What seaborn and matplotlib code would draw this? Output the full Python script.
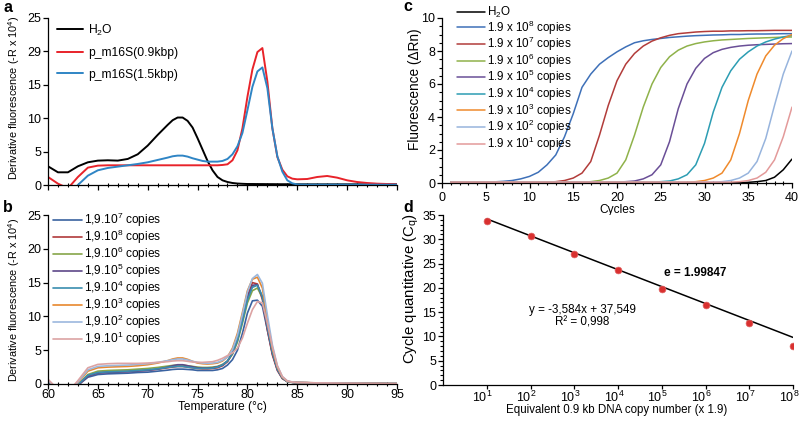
import pandas as pd
import seaborn as sns
import matplotlib.pyplot as plt
import matplotlib.transforms as mtransforms
from matplotlib.ticker import MultipleLocator, FixedLocator, NullLocator, FixedFormatter

# ---- panel a / b : melt curves ----
temp = [60, 61, 62, 63, 64, 65, 66, 67, 68, 69, 70, 71, 72, 72.5, 73, 73.5, 74, 74.5, 75, 75.5,
        76, 76.5, 77, 77.5, 78, 78.5, 79, 79.5, 80, 80.5, 81, 81.5, 82, 82.5, 83, 83.5, 84, 84.5,
        85, 86, 87, 88, 89, 90, 91, 92, 93, 94, 95]

melt_h2o = [2.8, 1.9, 1.9, 2.8, 3.4, 3.65, 3.7, 3.65, 3.9, 4.6, 5.9, 7.5, 9.0, 9.7, 10.1, 10.1, 9.6, 8.6, 7.0, 5.3,
            3.6, 2.2, 1.2, 0.7, 0.45, 0.3, 0.22, 0.18, 0.15, 0.15, 0.14, 0.14, 0.13, 0.13, 0.12, 0.12, 0.12, 0.11,
            0.11, 0.1, 0.1, 0.1, 0.1, 0.1, 0.1, 0.1, 0.1, 0.1, 0.1]
melt_09kbp = [1.2, 0.2, -0.5, 1.2, 2.6, 2.9, 2.95, 2.95, 2.95, 2.95, 2.95, 2.95, 2.95, 2.95, 2.95, 2.95, 2.95, 2.95, 2.95, 2.95,
              2.95, 2.95, 2.95, 3.0, 3.1, 3.7, 5.2, 8.5, 13.2, 17.3, 19.9, 20.5, 15.5, 8.5, 4.2, 2.3, 1.3, 0.95,
              0.85, 0.9, 1.2, 1.35, 1.1, 0.7, 0.45, 0.3, 0.2, 0.15, 0.1]
melt_15kbp = [-3.0, -3.0, -2.0, 0.0, 1.4, 2.2, 2.55, 2.75, 2.95, 3.15, 3.4, 3.75, 4.1, 4.3, 4.4, 4.4, 4.25, 4.0, 3.8, 3.6,
              3.5, 3.5, 3.5, 3.6, 3.9, 4.6, 5.8, 7.8, 11.2, 14.7, 17.0, 17.6, 14.5, 8.5, 4.3, 2.0, 0.7, 0.25,
              0.08, 0.05, 0.05, 0.05, 0.05, 0.05, 0.05, 0.05, 0.05, 0.05, 0.05]

melt_1e7 = [0.5, -1.2, -1.5, -0.2, 1.0, 1.4, 1.5, 1.55, 1.6, 1.7, 1.75, 1.9, 2.05, 2.15, 2.2, 2.2, 2.15, 2.1, 2.0, 2.0,
            2.0, 2.0, 2.1, 2.3, 2.8, 3.6, 5.0, 7.5, 10.5, 12.3, 12.4, 11.5, 8.0, 4.5, 2.2, 0.9, 0.4, 0.25,
            0.2, 0.18, 0.15, 0.15, 0.12, 0.1, 0.1, 0.08, 0.08, 0.05, 0.05]
melt_1e8 = [0.5, -1.2, -1.5, -0.2, 1.2, 1.7, 1.8, 1.85, 1.9, 2.0, 2.05, 2.2, 2.4, 2.5, 2.6, 2.6, 2.5, 2.4, 2.3, 2.25,
            2.25, 2.3, 2.4, 2.7, 3.3, 4.5, 6.5, 9.5, 13.0, 15.0, 14.8, 12.5, 8.0, 4.3, 2.0, 0.8, 0.35, 0.25,
            0.2, 0.18, 0.15, 0.15, 0.12, 0.1, 0.1, 0.08, 0.08, 0.05, 0.05]
melt_1e6 = [0.5, -1.2, -1.5, -0.1, 1.4, 1.9, 2.0, 2.05, 2.1, 2.2, 2.3, 2.45, 2.65, 2.75, 2.8, 2.8, 2.7, 2.6, 2.5, 2.45,
            2.45, 2.5, 2.6, 2.9, 3.4, 4.4, 6.2, 9.0, 12.0, 13.8, 14.2, 12.8, 8.6, 4.8, 2.3, 0.9, 0.35, 0.25,
            0.2, 0.18, 0.15, 0.15, 0.12, 0.1, 0.1, 0.08, 0.08, 0.05, 0.05]
melt_1e5 = [0.5, -1.2, -1.5, -0.2, 1.2, 1.6, 1.7, 1.75, 1.8, 1.9, 2.0, 2.2, 2.5, 2.7, 2.85, 2.85, 2.7, 2.55, 2.4, 2.35,
            2.35, 2.4, 2.55, 2.8, 3.4, 4.6, 6.6, 9.6, 12.8, 14.6, 14.7, 12.8, 8.3, 4.6, 2.1, 0.85, 0.35, 0.25,
            0.2, 0.18, 0.15, 0.15, 0.12, 0.1, 0.1, 0.08, 0.08, 0.05, 0.05]
melt_1e4 = [0.5, -1.2, -1.5, -0.1, 1.3, 1.7, 1.8, 1.85, 1.9, 2.0, 2.1, 2.25, 2.45, 2.55, 2.6, 2.6, 2.5, 2.4, 2.3, 2.3,
            2.3, 2.35, 2.5, 2.8, 3.4, 4.6, 6.5, 9.3, 12.4, 14.3, 14.6, 13.0, 8.5, 4.7, 2.2, 0.9, 0.35, 0.25,
            0.2, 0.18, 0.15, 0.15, 0.12, 0.1, 0.1, 0.08, 0.08, 0.05, 0.05]
melt_1e3 = [0.6, -1.0, -1.3, 0.2, 1.9, 2.4, 2.5, 2.55, 2.6, 2.7, 2.85, 3.1, 3.45, 3.7, 3.85, 3.85, 3.65, 3.35, 3.1, 3.0,
            2.95, 3.0, 3.1, 3.4, 4.0, 5.3, 7.5, 10.6, 13.8, 15.5, 15.8, 14.2, 9.5, 5.3, 2.5, 1.0, 0.4, 0.28,
            0.22, 0.2, 0.16, 0.15, 0.12, 0.1, 0.1, 0.08, 0.08, 0.05, 0.05]
melt_1e2 = [0.6, -1.0, -1.3, 0.3, 2.1, 2.6, 2.7, 2.75, 2.8, 2.9, 3.0, 3.2, 3.45, 3.6, 3.7, 3.7, 3.55, 3.35, 3.2, 3.1,
            3.05, 3.1, 3.2, 3.5, 4.0, 5.1, 7.2, 10.3, 13.6, 15.6, 16.2, 14.9, 10.2, 5.8, 2.7, 1.1, 0.45, 0.3,
            0.22, 0.2, 0.16, 0.15, 0.12, 0.1, 0.1, 0.08, 0.08, 0.05, 0.05]
melt_1e1 = [0.7, -0.8, -1.2, 0.5, 2.4, 2.9, 3.0, 3.05, 3.05, 3.05, 3.1, 3.2, 3.3, 3.4, 3.45, 3.45, 3.35, 3.25, 3.2, 3.2,
            3.25, 3.3, 3.5, 3.8, 4.2, 4.6, 5.3, 6.8, 9.0, 11.0, 12.2, 12.0, 9.0, 5.5, 2.7, 1.1, 0.45, 0.3,
            0.22, 0.2, 0.16, 0.15, 0.12, 0.1, 0.1, 0.08, 0.08, 0.05, 0.05]

# ---- panel c : amplification curves ----
cycles = list(range(1, 41))
amp_h2o = [0.02, 0.02, 0.02, 0.02, 0.02, 0.02, 0.02, 0.02, 0.02, 0.02, 0.02, 0.02, 0.02, 0.02, 0.02, 0.02, 0.02, 0.02, 0.02, 0.02,
           0.02, 0.02, 0.02, 0.02, 0.02, 0.02, 0.02, 0.02, 0.02, 0.02, 0.02, 0.02, 0.02, 0.02, 0.04, 0.08, 0.15, 0.35, 0.8, 1.45]
amp_1e8 = [0.05, 0.05, 0.05, 0.05, 0.06, 0.07, 0.1, 0.15, 0.25, 0.4, 0.65, 1.1, 1.7, 2.8, 4.2, 5.8, 6.6, 7.2, 7.6, 7.95,
           8.25, 8.5, 8.62, 8.7, 8.76, 8.82, 8.86, 8.9, 8.93, 8.95, 8.97, 8.98, 9.0, 9.0, 9.02, 9.03, 9.03, 9.04, 9.05, 9.05]
amp_1e7 = [0.05, 0.05, 0.05, 0.05, 0.05, 0.05, 0.05, 0.05, 0.05, 0.05, 0.05, 0.05, 0.08, 0.15, 0.3, 0.6, 1.3, 2.9, 4.7, 6.2,
           7.2, 7.85, 8.3, 8.6, 8.8, 8.95, 9.05, 9.1, 9.15, 9.18, 9.2, 9.2, 9.22, 9.22, 9.23, 9.23, 9.24, 9.25, 9.25, 9.25]
amp_1e6 = [0.05, 0.05, 0.05, 0.05, 0.05, 0.05, 0.05, 0.05, 0.05, 0.05, 0.05, 0.05, 0.05, 0.05, 0.05, 0.05, 0.08, 0.15, 0.3, 0.6,
           1.4, 2.9, 4.6, 6.0, 7.0, 7.65, 8.05, 8.3, 8.45, 8.55, 8.62, 8.67, 8.7, 8.73, 8.76, 8.78, 8.8, 8.82, 8.84, 8.85]
amp_1e5 = [0.05, 0.05, 0.05, 0.05, 0.05, 0.05, 0.05, 0.05, 0.05, 0.05, 0.05, 0.05, 0.05, 0.05, 0.05, 0.05, 0.05, 0.05, 0.05, 0.05,
           0.08, 0.12, 0.25, 0.5, 1.1, 2.5, 4.5, 6.0, 6.95, 7.55, 7.9, 8.1, 8.22, 8.3, 8.35, 8.38, 8.4, 8.42, 8.44, 8.45]
amp_1e4 = [0.05, 0.05, 0.05, 0.05, 0.05, 0.05, 0.05, 0.05, 0.05, 0.05, 0.05, 0.05, 0.05, 0.05, 0.05, 0.05, 0.05, 0.05, 0.05, 0.05,
           0.05, 0.05, 0.05, 0.05, 0.08, 0.12, 0.25, 0.5, 1.1, 2.4, 4.3, 5.8, 6.8, 7.5, 7.95, 8.3, 8.55, 8.72, 8.85, 8.95]
amp_1e3 = [0.05, 0.05, 0.05, 0.05, 0.05, 0.05, 0.05, 0.05, 0.05, 0.05, 0.05, 0.05, 0.05, 0.05, 0.05, 0.05, 0.05, 0.05, 0.05, 0.05,
           0.05, 0.05, 0.05, 0.05, 0.05, 0.05, 0.05, 0.05, 0.08, 0.15, 0.3, 0.6, 1.4, 3.0, 5.0, 6.6, 7.7, 8.35, 8.75, 9.0]
amp_1e2 = [0.05, 0.05, 0.05, 0.05, 0.05, 0.05, 0.05, 0.05, 0.05, 0.05, 0.05, 0.05, 0.05, 0.05, 0.05, 0.05, 0.05, 0.05, 0.05, 0.05,
           0.05, 0.05, 0.05, 0.05, 0.05, 0.05, 0.05, 0.05, 0.05, 0.05, 0.05, 0.08, 0.15, 0.3, 0.6, 1.3, 2.7, 4.7, 6.6, 8.0]
amp_1e1 = [0.05, 0.05, 0.05, 0.05, 0.05, 0.05, 0.05, 0.05, 0.05, 0.05, 0.05, 0.05, 0.05, 0.05, 0.05, 0.05, 0.05, 0.05, 0.05, 0.05,
           0.05, 0.05, 0.05, 0.05, 0.05, 0.05, 0.05, 0.05, 0.05, 0.05, 0.05, 0.05, 0.05, 0.08, 0.15, 0.3, 0.65, 1.4, 2.8, 4.6]

# ---- panel d : standard curve ----
copies = [1e1, 1e2, 1e3, 1e4, 1e5, 1e6, 1e7, 1e8]
cq = [33.8, 30.7, 26.9, 23.6, 19.8, 16.5, 12.8, 8.1]
trend_x = [1e1, 1e8]
trend_y = [34.2, 9.8]

labels_a = ["H$_2$O", "p_m16S(0.9kbp)", "p_m16S(1.5kbp)"]
colors_a = ["black", "#e8232a", "#2f85c5"]
labels_b = ["1,9.10$^7$ copies", "1,9.10$^8$ copies", "1,9.10$^6$ copies", "1,9.10$^5$ copies",
            "1,9.10$^4$ copies", "1,9.10$^3$ copies", "1,9.10$^2$ copies", "1,9.10$^1$ copies"]
colors_b = ["#3a62a0", "#b0393b", "#86a649", "#5e4889", "#3a8daf", "#e8882e", "#9cb8de", "#dca3a3"]
labels_c = ["H$_2$O", "1.9 x 10$^8$ copies", "1.9 x 10$^7$ copies", "1.9 x 10$^6$ copies", "1.9 x 10$^5$ copies",
            "1.9 x 10$^4$ copies", "1.9 x 10$^3$ copies", "1.9 x 10$^2$ copies", "1.9 x 10$^1$ copies"]
colors_c = ["black", "#3e70b8", "#b23c3a", "#8fb24a", "#6a4f97", "#2c9db3", "#ef8a2c", "#97b4dd", "#e39a9a"]

sns.set_theme(style="ticks")
plt.rcParams["font.family"] = ["Liberation Sans", "DejaVu Sans"]
plt.rcParams["mathtext.fontset"] = "custom"
plt.rcParams["mathtext.rm"] = "Liberation Sans"
plt.rcParams["mathtext.it"] = "Liberation Sans:italic"
plt.rcParams["mathtext.bf"] = "Liberation Sans:bold"
plt.rcParams["mathtext.default"] = "regular"
plt.rcParams["axes.linewidth"] = 0.9
plt.rcParams["axes.edgecolor"] = "black"
plt.rcParams["text.color"] = "black"
plt.rcParams["axes.labelcolor"] = "black"
plt.rcParams["xtick.color"] = "black"
plt.rcParams["ytick.color"] = "black"

W, H = 800, 424
TICK_FS = 9


def px_rect(left, top, right, bottom):
    return [left / W, 1 - bottom / H, (right - left) / W, (bottom - top) / H]


def long_df(xname, xs, series, labels):
    parts = [pd.DataFrame({xname: xs, "value": ys, "sample": lab}) for ys, lab in zip(series, labels)]
    return pd.concat(parts, ignore_index=True)


def style_axes(ax):
    sns.despine(ax=ax)
    ax.tick_params(axis="both", which="major", labelsize=TICK_FS, width=0.9, length=3.5, pad=1.5)
    ax.tick_params(axis="x", which="minor", direction="inout", length=3, width=0.8)
    ax.tick_params(axis="y", which="minor", direction="out", length=2, width=0.8)


fig = plt.figure(figsize=(W / 100, H / 100), dpi=100)

# ---------------- a ----------------
ax_a = fig.add_axes(px_rect(48, 18, 397, 185))
df_a = long_df("temp", temp, [melt_h2o, melt_09kbp, melt_15kbp], labels_a)
sns.lineplot(data=df_a, x="temp", y="value", hue="sample", hue_order=labels_a,
             palette=dict(zip(labels_a, colors_a)), linewidth=1.4, ax=ax_a)
ax_a.set_xlim(60, 95)
ax_a.set_ylim(0, 25)
ax_a.yaxis.set_major_locator(FixedLocator([0, 5, 10, 15, 20, 25]))
ax_a.yaxis.set_major_formatter(FixedFormatter(["0", "5", "10", "15", "29", "25"]))
ax_a.xaxis.set_major_locator(MultipleLocator(5))
ax_a.xaxis.set_minor_locator(MultipleLocator(1))
ax_a.set_xlabel("")
style_axes(ax_a)
ax_a.set_xticklabels([])
ax_a.set_ylabel("Derivative fluorescence (-R x 10$^4$)", fontsize=7.8)
ax_a.yaxis.set_label_coords(-0.074, 0.525)
h, l = ax_a.get_legend_handles_labels()
ax_a.legend(h, l, loc="upper left", bbox_to_anchor=(0.026, 0.972), frameon=False, fontsize=8.7,
            handlelength=2.15, handletextpad=0.4, labelspacing=0.78, borderpad=0, borderaxespad=0)

# ---------------- b ----------------
ax_b = fig.add_axes(px_rect(48, 215, 397, 384))
df_b = long_df("temp", temp, [melt_1e7, melt_1e8, melt_1e6, melt_1e5, melt_1e4, melt_1e3, melt_1e2, melt_1e1], labels_b)
sns.lineplot(data=df_b, x="temp", y="value", hue="sample", hue_order=labels_b,
             palette=dict(zip(labels_b, colors_b)), linewidth=1.2, ax=ax_b)
ax_b.set_xlim(60, 95)
ax_b.set_ylim(0, 25)
ax_b.yaxis.set_major_locator(MultipleLocator(5))
ax_b.xaxis.set_major_locator(MultipleLocator(5))
ax_b.xaxis.set_minor_locator(MultipleLocator(1))
style_axes(ax_b)
ax_b.tick_params(axis="x", which="major", pad=0)
ax_b.set_xlabel("Temperature (°c)", fontsize=8.6)
ax_b.xaxis.set_label_coords(0.4986, -0.1)
ax_b.set_ylabel("Derivative fluorescence (-R x 10$^4$)", fontsize=7.8)
ax_b.yaxis.set_label_coords(-0.074, 0.5)
h, l = ax_b.get_legend_handles_labels()
ax_b.legend(h, l, loc="upper left", bbox_to_anchor=(0.014, 1.025), frameon=False, fontsize=8.6,
            handlelength=2.45, handletextpad=0.15, labelspacing=-0.1, borderpad=0, borderaxespad=0)

# ---------------- c ----------------
ax_c = fig.add_axes(px_rect(442, 18, 792, 183))
df_c = long_df("cycle", cycles, [amp_h2o, amp_1e8, amp_1e7, amp_1e6, amp_1e5, amp_1e4, amp_1e3, amp_1e2, amp_1e1], labels_c)
sns.lineplot(data=df_c, x="cycle", y="value", hue="sample", hue_order=labels_c,
             palette=dict(zip(labels_c, colors_c)), linewidth=1.1, ax=ax_c)
ax_c.set_xlim(0, 40)
ax_c.set_ylim(0, 10)
ax_c.xaxis.set_major_locator(MultipleLocator(5))
ax_c.xaxis.set_minor_locator(MultipleLocator(1))
ax_c.yaxis.set_major_locator(MultipleLocator(2))
ax_c.yaxis.set_minor_locator(MultipleLocator(0.5))
style_axes(ax_c)
ax_c.tick_params(axis="x", which="major", pad=3)
ax_c.set_xlabel("Cycles", fontsize=8.6)
ax_c.xaxis.set_label_coords(0.5, -0.127)
ax_c.set_ylabel("Fluorescence (ΔRn)", fontsize=9.8)
ax_c.yaxis.set_label_coords(-0.057, 0.567)
h, l = ax_c.get_legend_handles_labels()
ax_c.legend(h, l, loc="upper left", bbox_to_anchor=(0.043, 1.08), frameon=False, fontsize=8.4,
            handlelength=2.4, handletextpad=0.15, labelspacing=-0.137, borderpad=0, borderaxespad=0)

# ---------------- d ----------------
ax_d = fig.add_axes(px_rect(443, 215, 793, 385))
sns.lineplot(x=trend_x, y=trend_y, color="black", linewidth=1.1, ax=ax_d)
sns.scatterplot(x=copies, y=cq, color="#d9302f", s=24, edgecolor="#e06060", linewidth=0.5, zorder=3, ax=ax_d)
ax_d.set_xscale("log")
ax_d.set_xlim(1, 1e8)
ax_d.set_ylim(0, 35)
ax_d.xaxis.set_major_locator(FixedLocator(copies))
ax_d.xaxis.set_minor_locator(NullLocator())
ax_d.yaxis.set_major_locator(MultipleLocator(5))
ax_d.yaxis.set_minor_locator(MultipleLocator(1))
style_axes(ax_d)
ax_d.tick_params(axis="x", which="major", pad=0.5, length=3)
ax_d.set_xlabel("Equivalent 0.9 kb DNA copy number (x 1.9)", fontsize=8.3)
ax_d.xaxis.set_label_coords(0.497, -0.112)
ax_d.set_ylabel("Cycle quantitative (C$_q$)", fontsize=10.8)
ax_d.yaxis.set_label_coords(-0.063, 0.565)
ax_d.text(0.72, 0.66, "e = 1.99847", transform=ax_d.transAxes, fontsize=8.5, fontweight="bold",
          ha="center", va="center")
ax_d.text(0.397, 0.44, "y = -3,584x + 37,549", transform=ax_d.transAxes, fontsize=8.4,
          ha="center", va="center")
ax_d.text(0.397, 0.365, "R² = 0,998", transform=ax_d.transAxes, fontsize=8.4,
          ha="center", va="center")
# the decade labels sit a little left of their ticks in the original
shift = mtransforms.ScaledTranslation(-4 / 100, 0, fig.dpi_scale_trans)
for lab in ax_d.get_xticklabels():
    lab.set_transform(lab.get_transform() + shift)

# panel letters
for letter, x, y in [("a", 3, 12), ("b", 3, 212), ("c", 403, 11), ("d", 403, 212)]:
    fig.text(x / W, 1 - y / H, letter, fontsize=11.5, fontweight="bold", ha="left", va="baseline")

fig.savefig("out.png", dpi=100)
